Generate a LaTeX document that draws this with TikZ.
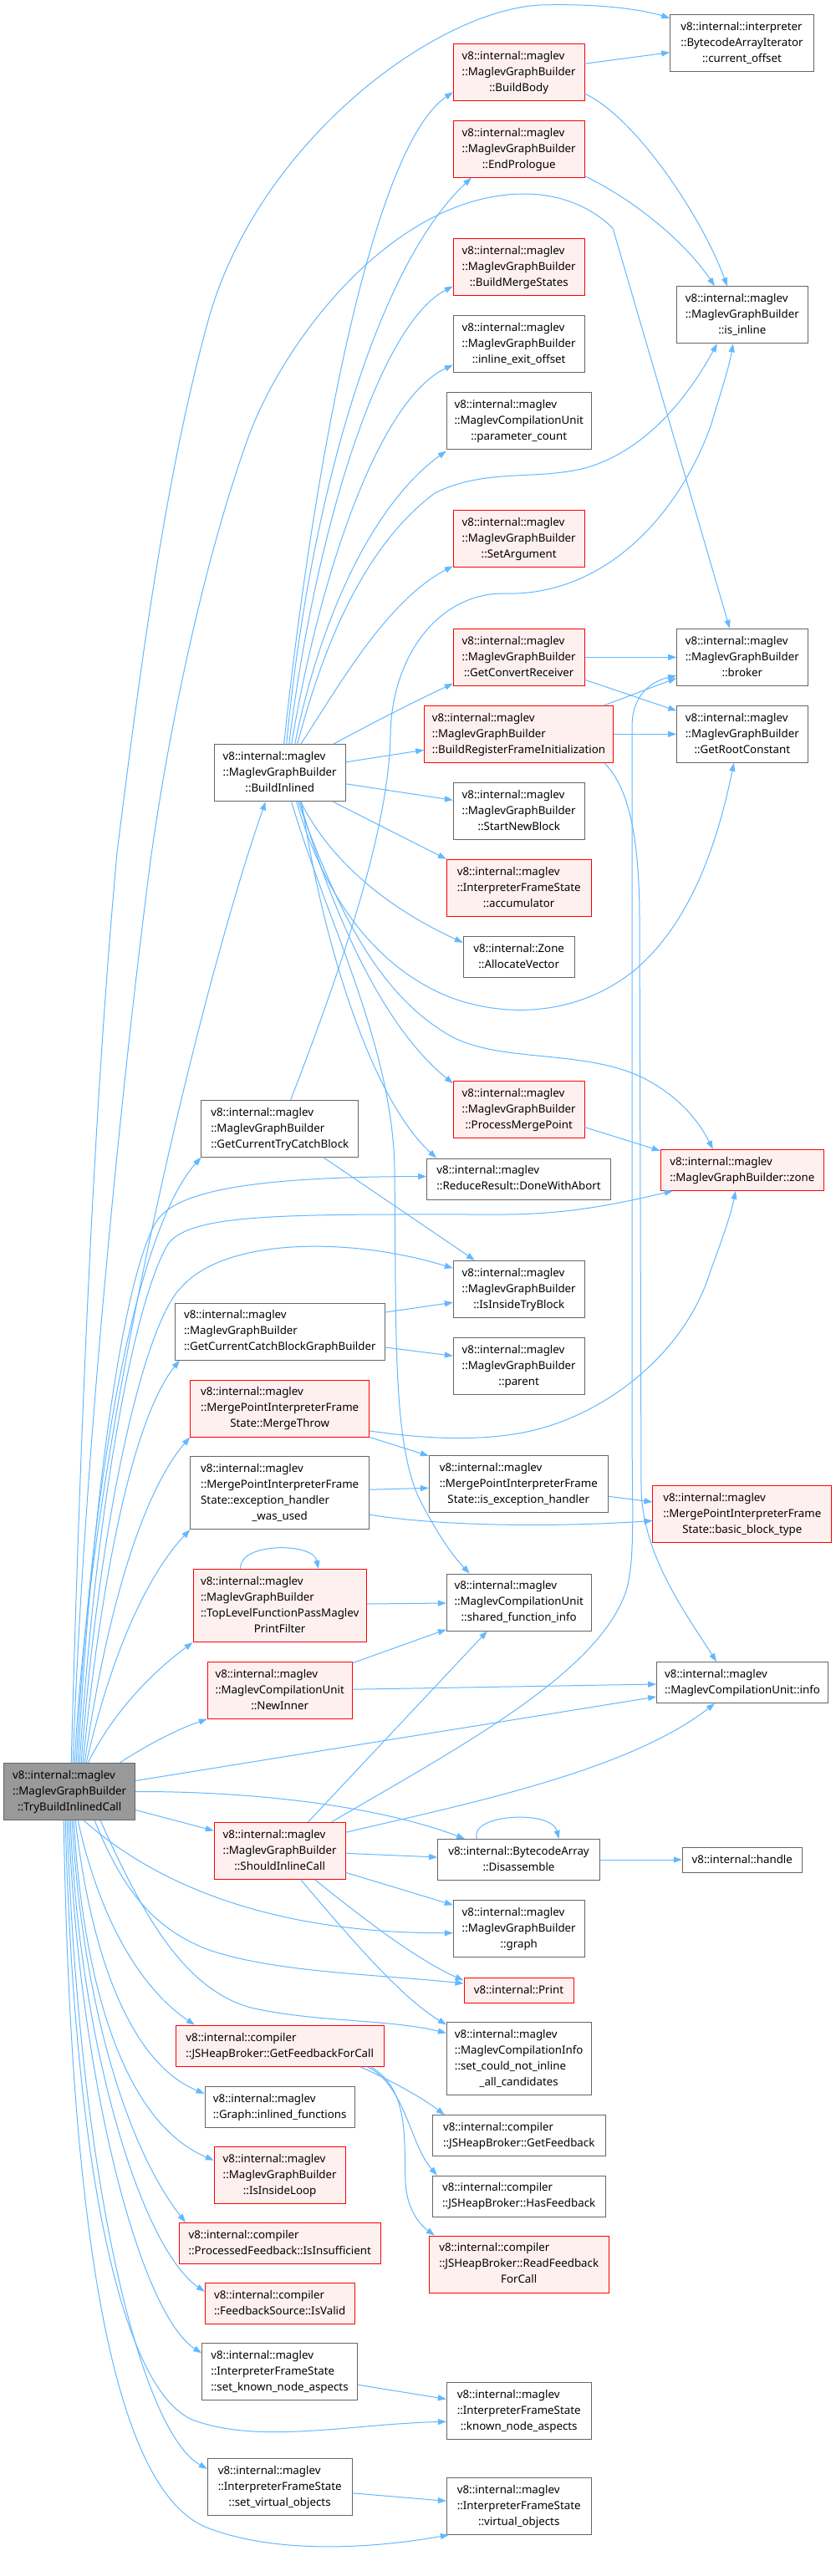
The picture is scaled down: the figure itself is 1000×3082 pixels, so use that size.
\documentclass[tikz,border=0pt]{standalone}
\usepackage{fontspec}
\setmainfont{Noto Sans}
\usetikzlibrary{arrows.meta}
\definecolor{edgec}{HTML}{63B8FF}
\definecolor{nodeb}{HTML}{666666}
\definecolor{redfill}{HTML}{FFF0F0}
\definecolor{rootfill}{HTML}{999999}
\newcommand\fsz{\fontsize{13.3pt}{19pt}\selectfont}
\newcommand\Ltwo[2]{\begin{tabular}{@{}l@{}}#1\\\multicolumn{1}{@{}c@{}}{#2}\end{tabular}}
\newcommand\Lthree[3]{\begin{tabular}{@{}l@{}}#1\\#2\\\multicolumn{1}{@{}c@{}}{#3}\end{tabular}}
\newcommand\Lfour[4]{\begin{tabular}{@{}l@{}}#1\\#2\\#3\\\multicolumn{1}{@{}c@{}}{#4}\end{tabular}}
\newcommand\VIM{v8::internal::maglev}
\newcommand\MGB{::MaglevGraphBuilder}
\newcommand\MPF{::MergePointInterpreterFrame}
\begin{document}
\begin{tikzpicture}[x=1pt,y=-1pt,
  nbox/.style={rectangle,draw=nodeb,fill=white,line width=1pt,inner sep=0pt,font=\fsz,text=black},
  rbox/.style={nbox,draw=red,fill=redfill},
  rootbox/.style={nbox,draw=nodeb,fill=rootfill},
  mw/.style={minimum width=#1pt},
  hone/.style={minimum height=30pt},
  htwo/.style={minimum height=49pt},
  hthree/.style={minimum height=68pt},
  hfour/.style={minimum height=87pt},
  edg/.style={draw=edgec,line width=1pt,-{Triangle[length=10pt,width=7pt]}}]
\fill[white] (0,0) rectangle (1000,3082);
\useasboundingbox (0,0) rectangle (1000,3082);
% right / middle columns
\node[nbox,mw=171.7,hthree] (cur) at (887.5,51.7) {\Lthree{v8::internal::interpreter}{::BytecodeArrayIterator}{::current\_offset}};
\node[rbox,mw=156.7,hthree] (bbody) at (620.7,86.2) {\Lthree{\VIM}{\MGB}{::BuildBody}};
\node[rbox,mw=156.7,hthree] (endp) at (620.7,178.2) {\Lthree{\VIM}{\MGB}{::EndPrologue}};
\node[rbox,mw=156.7,hthree] (bms) at (620.7,319.5) {\Lthree{\VIM}{\MGB}{::BuildMergeStates}};
\node[nbox,mw=156.3,hthree] (isinl) at (887.85,376.8) {\Lthree{\VIM}{\MGB}{::is\_inline}};
\node[nbox,mw=156.7,hthree] (ieo) at (620.7,411.5) {\Lthree{\VIM}{\MGB}{::inline\_exit\_offset}};
\node[nbox,mw=172.7,hthree] (pc) at (620.7,503.5) {\Lthree{\VIM}{::MaglevCompilationUnit}{::parameter\_count}};
\node[rbox,mw=156.7,hthree] (setarg) at (620.7,644.8) {\Lthree{\VIM}{\MGB}{::SetArgument}};
\node[rbox,mw=156.7,hthree] (gcr) at (620.7,786.3) {\Lthree{\VIM}{\MGB}{::GetConvertReceiver}};
\node[nbox,mw=156.3,hthree] (broker) at (887.85,786.3) {\Lthree{\VIM}{\MGB}{::broker}};
\node[rbox,mw=225.7,hthree] (brfi) at (620.5,878.3) {\Lthree{\VIM}{\MGB}{::BuildRegisterFrameInitialization}};
\node[nbox,mw=156.3,hthree] (grc) at (887.85,878.3) {\Lthree{\VIM}{\MGB}{::GetRootConstant}};
\node[nbox,mw=156.7,hthree] (snb) at (620.7,970.3) {\Lthree{\VIM}{\MGB}{::StartNewBlock}};
\node[rbox,mw=172.7,hthree] (acc) at (620.7,1062.3) {\Lthree{\VIM}{::InterpreterFrameState}{::accumulator}};
\node[nbox,mw=132.7,htwo] (alloc) at (620.7,1144.8) {\Ltwo{v8::internal::Zone}{::AllocateVector}};
\node[rbox,mw=156.7,hthree] (pmp) at (620.7,1327.7) {\Lthree{\VIM}{\MGB}{::ProcessMergePoint}};
\node[nbox,mw=219.7,htwo] (dwa) at (620.5,1410.5) {\Ltwo{\VIM}{::ReduceResult::DoneWithAbort}};
\node[rbox,mw=195,htwo] (zone) at (887.8,1399.8) {\Ltwo{\VIM}{\MGB::zone}};
\node[nbox,mw=156.7,hthree] (iitb) at (620.7,1542.3) {\Lthree{\VIM}{\MGB}{::IsInsideTryBlock}};
\node[nbox,mw=156.7,hthree] (parent) at (620.7,1634.2) {\Lthree{\VIM}{\MGB}{::parent}};
\node[nbox,mw=214,hthree] (ieh) at (620.3,1775.3) {\Lthree{\VIM}{\MPF}{State::is\_exception\_handler}};
\node[rbox,mw=213.7,hthree] (bbt) at (887.8,1811.5) {\Lthree{\VIM}{\MPF}{State::basic\_block\_type}};
\node[nbox,mw=172.7,hthree] (sfi) at (620.7,1917) {\Lthree{\VIM}{::MaglevCompilationUnit}{::shared\_function\_info}};
\node[nbox,mw=204.7,htwo] (info) at (888,2013) {\Ltwo{\VIM}{::MaglevCompilationUnit::info}};
\node[nbox,mw=193.7,htwo] (dis) at (620.5,2225) {\Ltwo{v8::internal::BytecodeArray}{::Disassemble}};
\node[nbox,mw=143,hone] (handle) at (887.8,2225) {v8::internal::handle};
\node[nbox,mw=156.7,hthree] (graph) at (620.7,2307.7) {\Lthree{\VIM}{\MGB}{::graph}};
\node[rbox,mw=131,hone] (print) at (620.5,2381) {v8::internal::Print};
\node[nbox,mw=172.7,hfour] (scn) at (620.7,2463.3) {\Lfour{\VIM}{::MaglevCompilationInfo}{::set\_could\_not\_inline}{\_all\_candidates}};
\node[nbox,mw=206.7,htwo] (gfb) at (620.7,2555.2) {\Ltwo{v8::internal::compiler}{::JSHeapBroker::GetFeedback}};
\node[nbox,mw=206.7,htwo] (hfb) at (620.7,2627.5) {\Ltwo{v8::internal::compiler}{::JSHeapBroker::HasFeedback}};
\node[rbox,mw=214.7,hthree] (rfc) at (620.7,2709) {\Lthree{v8::internal::compiler}{::JSHeapBroker::ReadFeedback}{ForCall}};
\node[nbox,mw=172.7,hthree] (kna) at (620.7,2884.3) {\Lthree{\VIM}{::InterpreterFrameState}{::known\_node\_aspects}};
\node[nbox,mw=172.7,hthree] (vo) at (620.7,2998.3) {\Lthree{\VIM}{::InterpreterFrameState}{::virtual\_objects}};
% left column
\node[nbox,mw=156.7,hthree] (binl) at (334.7,924.8) {\Lthree{\VIM}{\MGB}{::BuildInlined}};
\node[nbox,mw=187.7,hthree] (gctcb) at (334.8,1350.2) {\Lthree{\VIM}{\MGB}{::GetCurrentTryCatchBlock}};
\node[nbox,mw=251,hthree] (gccbgb) at (334.8,1593) {\Lthree{\VIM}{\MGB}{::GetCurrentCatchBlockGraphBuilder}};
\node[rbox,mw=214,hthree] (mthrow) at (334.7,1685) {\Lthree{\VIM}{\MPF}{State::MergeThrow}};
\node[nbox,mw=214,hfour] (ehwu) at (334.7,1786.2) {\Lfour{\VIM}{\MPF}{State::exception\_handler}{\_was\_used}};
\node[rbox,mw=207.3,hfour] (tlf) at (334.7,1921) {\Lfour{\VIM}{\MGB}{::TopLevelFunctionPassMaglev}{PrintFilter}};
\node[rbox,mw=172.7,hthree] (newinner) at (334.7,2022.2) {\Lthree{\VIM}{::MaglevCompilationUnit}{::NewInner}};
\node[rootbox,mw=157,hthree] (R) at (83.2,2143.5) {\Lthree{\VIM}{\MGB}{::TryBuildInlinedCall}};
\node[rbox,mw=156.7,hthree] (sic) at (334.65,2214.3) {\Lthree{\VIM}{\MGB}{::ShouldInlineCall}};
\node[rbox,mw=248.7,htwo] (gffc) at (334.7,2447.7) {\Ltwo{v8::internal::compiler}{::JSHeapBroker::GetFeedbackForCall}};
\node[nbox,mw=179.3,htwo] (inlf) at (334.7,2520.8) {\Ltwo{\VIM}{::Graph::inlined\_functions}};
\node[rbox,mw=156.7,hthree] (iil) at (334.65,2602.7) {\Lthree{\VIM}{\MGB}{::IsInsideLoop}};
\node[rbox,mw=240.7,htwo] (iins) at (334.7,2683.8) {\Ltwo{v8::internal::compiler}{::ProcessedFeedback::IsInsufficient}};
\node[rbox,mw=178.7,htwo] (isvalid) at (334.7,2755.8) {\Ltwo{v8::internal::compiler}{::FeedbackSource::IsValid}};
\node[nbox,mw=185.7,hthree] (skna) at (334.5,2837.2) {\Lthree{\VIM}{::InterpreterFrameState}{::set\_known\_node\_aspects}};
\node[nbox,mw=172.7,hthree] (svo) at (334.7,2975.8) {\Lthree{\VIM}{::InterpreterFrameState}{::set\_virtual\_objects}};
% ---------- edges from root, upwards
\draw[edg] ([xshift=2pt]R.north) .. controls (95,1750) and (110,1350) .. (140,1020) .. controls (170,780) and (200,560) .. (250,380) .. controls (310,170) and (520,12) .. (647,6) .. controls (720,4) and (770,12) .. ([yshift=30pt]cur.west);
\draw[edg] ([xshift=4pt]R.north) .. controls (100,1750) and (145,1300) .. (180,1030) .. controls (205,850) and (250,650) .. (300,515) .. controls (350,390) and (480,232) .. (627,232) .. controls (680,232) and (715,255) .. (733,273) -- ([xshift=-15pt]broker.north);
\draw[edg] ([xshift=6pt]R.north) .. controls (110,1700) and (250,1150) .. ([xshift=-17pt]binl.south);
\draw[edg] ([xshift=8pt]R.north) .. controls (110,1750) and (165,1470) .. (gctcb.south west);
\draw[edg] ([xshift=10pt]R.north) .. controls (110,1800) and (145,1540) .. (185,1465) .. controls (205,1425) and (300,1408) .. ([yshift=3pt]dwa.west);
\draw[edg] ([xshift=12pt]R.north) .. controls (115,1800) and (160,1560) .. (200,1490) .. controls (225,1450) and (350,1453) .. (600,1453) .. controls (680,1453) and (740,1440) .. ([xshift=15pt]zone.south west);
\draw[edg] ([xshift=14pt]R.north) .. controls (120,1800) and (175,1580) .. (217,1540) .. controls (270,1480) and (420,1480) .. ([yshift=25pt]iitb.west);
\draw[edg] ([xshift=16pt]R.north) .. controls (125,1850) and (165,1690) .. ([xshift=6pt]gccbgb.south west);
\draw[edg] ([xshift=18pt]R.north) .. controls (130,1910) and (175,1780) .. (mthrow.south west);
\draw[edg] ([xshift=20pt]R.north) .. controls (135,1970) and (180,1880) .. (ehwu.south west);
\draw[edg] ([xshift=22pt]R.north) .. controls (140,2040) and (190,1995) .. (tlf.south west);
\draw[edg] ([xshift=60pt]R.north) .. controls (180,2085) and (215,2068) .. (newinner.south west);
% root, right side
\draw[edg] ([yshift=13pt]R.east) -- ([yshift=-17pt]info.west);
\draw[edg] ([yshift=-22pt]R.east) -- ([yshift=24pt]sic.west);
\draw[edg] (R.east) .. controls (300,2143) and (450,2160) .. ([xshift=33pt]dis.north west);
\draw[edg] ([xshift=17pt]R.south) .. controls (170,2240) and (300,2313) .. ([yshift=-5pt]graph.west);
\draw[edg] ([xshift=30pt]R.south) .. controls (150,2270) and (190,2310) .. (250,2333) .. controls (330,2360) and (450,2362) .. ([yshift=8pt]print.west);
\draw[edg] ([xshift=37pt]R.south) .. controls (170,2290) and (220,2380) .. (300,2402) .. controls (380,2420) and (460,2415) .. ([yshift=31pt]scn.west);
% root, downwards
\draw[edg] ([xshift=10pt]R.south) .. controls (120,2300) and (170,2380) .. ([xshift=23pt]gffc.north west);
\draw[edg] ([xshift=7pt]R.south) .. controls (110,2350) and (160,2470) .. ([yshift=16pt]inlf.west);
\draw[edg] ([xshift=5pt]R.south) .. controls (100,2380) and (150,2540) .. ([yshift=18pt]iil.west);
\draw[edg] ([xshift=3pt]R.south) .. controls (100,2420) and (160,2580) .. ([xshift=8pt]iins.north west);
\draw[edg] ([xshift=1pt]R.south) .. controls (95,2450) and (170,2690) .. ([yshift=14pt]isvalid.west);
\draw[edg] ([xshift=-1pt]R.south) .. controls (95,2500) and (170,2770) .. ([yshift=22pt]skna.west);
\draw[edg] ([xshift=-3pt]R.south) .. controls (95,2620) and (170,2910) .. ([yshift=22pt]svo.west);
\draw[edg] ([xshift=-5pt]R.south) .. controls (90,2620) and (150,2860) .. (230,2895) .. controls (310,2925) and (420,2900) .. ([yshift=-13pt]kna.west);
\draw[edg] ([xshift=-7pt]R.south) .. controls (85,2700) and (140,2985) .. (250,3025) .. controls (330,3055) and (440,3050) .. ([xshift=3pt]vo.south west);
% BuildInlined
\draw[edg] ([xshift=5pt]binl.north) .. controls (370,600) and (440,180) .. ([yshift=-24pt]bbody.west);
\draw[edg] ([xshift=8pt]binl.north) .. controls (370,600) and (450,320) .. ([xshift=22pt]endp.south west);
\draw[edg] ([xshift=11pt]binl.north) .. controls (375,650) and (450,390) .. ([yshift=-23pt]bms.west);
\draw[edg] ([xshift=14pt]binl.north) .. controls (380,700) and (450,480) .. ([yshift=-25pt]ieo.west);
\draw[edg] ([xshift=18pt]binl.north) .. controls (385,730) and (450,600) .. ([yshift=-36pt]pc.west);
\draw[edg] ([xshift=21pt]binl.north) .. controls (390,760) and (440,650) .. (520,590) .. controls (580,560) and (640,575) .. (700,560) .. controls (770,540) and (820,480) .. ([xshift=-30pt]isinl.south);
\draw[edg] ([xshift=25pt]binl.north) .. controls (400,830) and (460,720) .. ([yshift=2pt]setarg.south west);
\draw[edg] ([xshift=-15pt]binl.north east) .. controls (440,868) and (490,842) .. ([yshift=3pt]gcr.south west);
\draw[edg] ([yshift=13pt]binl.east) -- ([yshift=-19pt]brfi.west);
\draw[edg] ([yshift=-13pt]binl.east) -- ([yshift=13pt]snb.west);
\draw[edg] ([xshift=-15pt]binl.south east) -- (acc.north west);
\draw[edg] ([xshift=25pt]binl.south) .. controls (390,1020) and (450,1080) .. ([yshift=-8pt]alloc.north west);
\draw[edg] ([xshift=20pt]binl.south) .. controls (390,1080) and (450,1150) .. (520,1185) .. controls (580,1215) and (680,1225) .. (760,1160) .. controls (830,1100) and (860,1000) .. ([xshift=-10pt]grc.south);
\draw[edg] ([xshift=22pt]binl.south) .. controls (400,1080) and (450,1190) .. (540,1240) .. controls (600,1272) and (700,1255) .. (770,1290) .. controls (800,1305) and (830,1330) .. ([xshift=-35pt]zone.north);
\draw[edg] ([xshift=24pt]binl.south) .. controls (400,1100) and (460,1230) .. ([yshift=-3pt]pmp.north west);
\draw[edg] ([xshift=26pt]binl.south) .. controls (390,1150) and (450,1320) .. ([xshift=12pt]dwa.north west);
\draw[edg] ([xshift=14pt]binl.south) .. controls (390,1100) and (470,1250) .. (472,1400) .. controls (474,1600) and (470,1720) .. (500,1790) .. controls (520,1830) and (540,1860) .. ([xshift=28pt]sfi.north west);
% GetCurrentTryCatchBlock
\draw[edg] ([xshift=13pt]gctcb.north) .. controls (400,1180) and (465,1000) .. (467,880) .. controls (468,790) and (520,712) .. (600,710) .. controls (720,715) and (810,620) .. (850,510) .. controls (862,470) and (872,440) .. ([xshift=-11pt]isinl.south);
\draw[edg] ([xshift=52pt]gctcb.south) -- ([xshift=26pt]iitb.north west);
% GetCurrentCatchBlockGraphBuilder
\draw[edg] ([yshift=23pt]gccbgb.east) -- ([yshift=-16pt]iitb.west);
\draw[edg] ([yshift=-19pt]gccbgb.east) -- ([yshift=12pt]parent.west);
% MergeThrow
\draw[edg] ([yshift=-27pt]mthrow.east) .. controls (500,1720) and (560,1725) .. (620,1715) .. controls (720,1698) and (820,1620) .. (850,1520) .. controls (865,1480) and (875,1450) .. ([xshift=-8pt]zone.south);
\draw[edg] (mthrow.south east) -- ([yshift=-1pt]ieh.north west);
% exception_handler_was_used
\draw[edg] ([yshift=4pt]ehwu.east) -- ([yshift=-5pt]ieh.west);
\draw[edg] ([yshift=-26pt]ehwu.east) .. controls (520,1825) and (650,1828) .. ([yshift=-8pt]bbt.west);
\draw[edg] ([yshift=-15pt]ieh.east) -- ([yshift=14.5pt]bbt.west);
% TopLevelFunctionPassMaglevPrintFilter
\draw[edg] ([xshift=-47pt]tlf.north) .. controls (285,1845) and (375,1845) .. ([xshift=46pt]tlf.north);
\draw[edg] ([yshift=2pt]tlf.east) -- ([yshift=-1pt]sfi.west);
% NewInner
\draw[edg] ([yshift=-2pt]newinner.north east) -- ([yshift=2pt]sfi.south west);
\draw[edg] ([yshift=1pt]newinner.east) -- ([yshift=-2pt]info.west);
% ShouldInlineCall
\draw[edg] ([xshift=34pt]sic.north) -- ([xshift=49pt]sfi.south west);
\draw[edg] ([xshift=62pt]sic.north) .. controls (550,2090) and (720,2000) .. (750,1900) .. controls (760,1860) and (756,1800) .. (756,1700) -- (756,870) .. controls (756,830) and (780,815) .. ([yshift=-22pt]broker.west);
\draw[edg] ([yshift=22pt]sic.east) .. controls (550,2160) and (750,2120) .. ([xshift=-33pt]info.south);
\draw[edg] ([yshift=-3pt]sic.east) -- ([yshift=3pt]dis.west);
\draw[edg] ([yshift=-26pt]sic.east) -- ([yshift=-6pt]graph.north west);
\draw[edg] ([xshift=42pt]sic.south) .. controls (440,2300) and (500,2345) .. ([yshift=-4pt]print.north west);
\draw[edg] ([xshift=25pt]sic.south) .. controls (420,2320) and (480,2390) .. ([yshift=-3pt]scn.north west);
% middle column sources
\draw[edg] ([yshift=10pt]bbody.east) -- ([yshift=-11pt]cur.west);
\draw[edg] ([yshift=-26pt]bbody.east) .. controls (760,140) and (840,260) .. ([xshift=-18pt]isinl.north);
\draw[edg] ([yshift=2pt]endp.south east) .. controls (760,240) and (820,290) .. ([xshift=-33pt]isinl.north);
\draw[edg] (gcr.east) -- (broker.west);
\draw[edg] ([yshift=-27pt]gcr.east) -- ([yshift=28pt]grc.west);
\draw[edg] ([xshift=-11pt]brfi.north east) -- ([yshift=-25pt]broker.west);
\draw[edg] (brfi.east) -- (grc.west);
\draw[edg] ([xshift=-11pt]brfi.south east) .. controls (745,935) and (765,980) .. (765,1100) -- (767,1780) .. controls (768,1860) and (820,1930) .. ([xshift=-31pt]info.north);
\draw[edg] ([yshift=-21pt]pmp.east) -- ([yshift=-2pt]zone.north west);
\draw[edg] (dis.east) -- (handle.west);
\draw[edg] ([xshift=-50pt]dis.north) .. controls (560,2170) and (660,2165) .. ([xshift=48pt]dis.north);
\draw[edg] ([xshift=-29pt]gffc.south east) .. controls (470,2490) and (505,2510) .. ([xshift=15pt]gfb.north west);
\draw[edg] ([xshift=-20pt]gffc.south east) .. controls (485,2495) and (490,2565) .. ([xshift=6pt]hfb.north west);
\draw[edg] ([xshift=-16pt]gffc.south east) .. controls (490,2500) and (483,2560) .. (485,2610) .. controls (486,2640) and (500,2660) .. ([xshift=7pt]rfc.north west);
\draw[edg] ([yshift=-16pt]skna.east) -- ([yshift=14pt]kna.west);
\draw[edg] ([yshift=-7pt]svo.east) -- ([yshift=6pt]vo.west);
\end{tikzpicture}
\end{document}
